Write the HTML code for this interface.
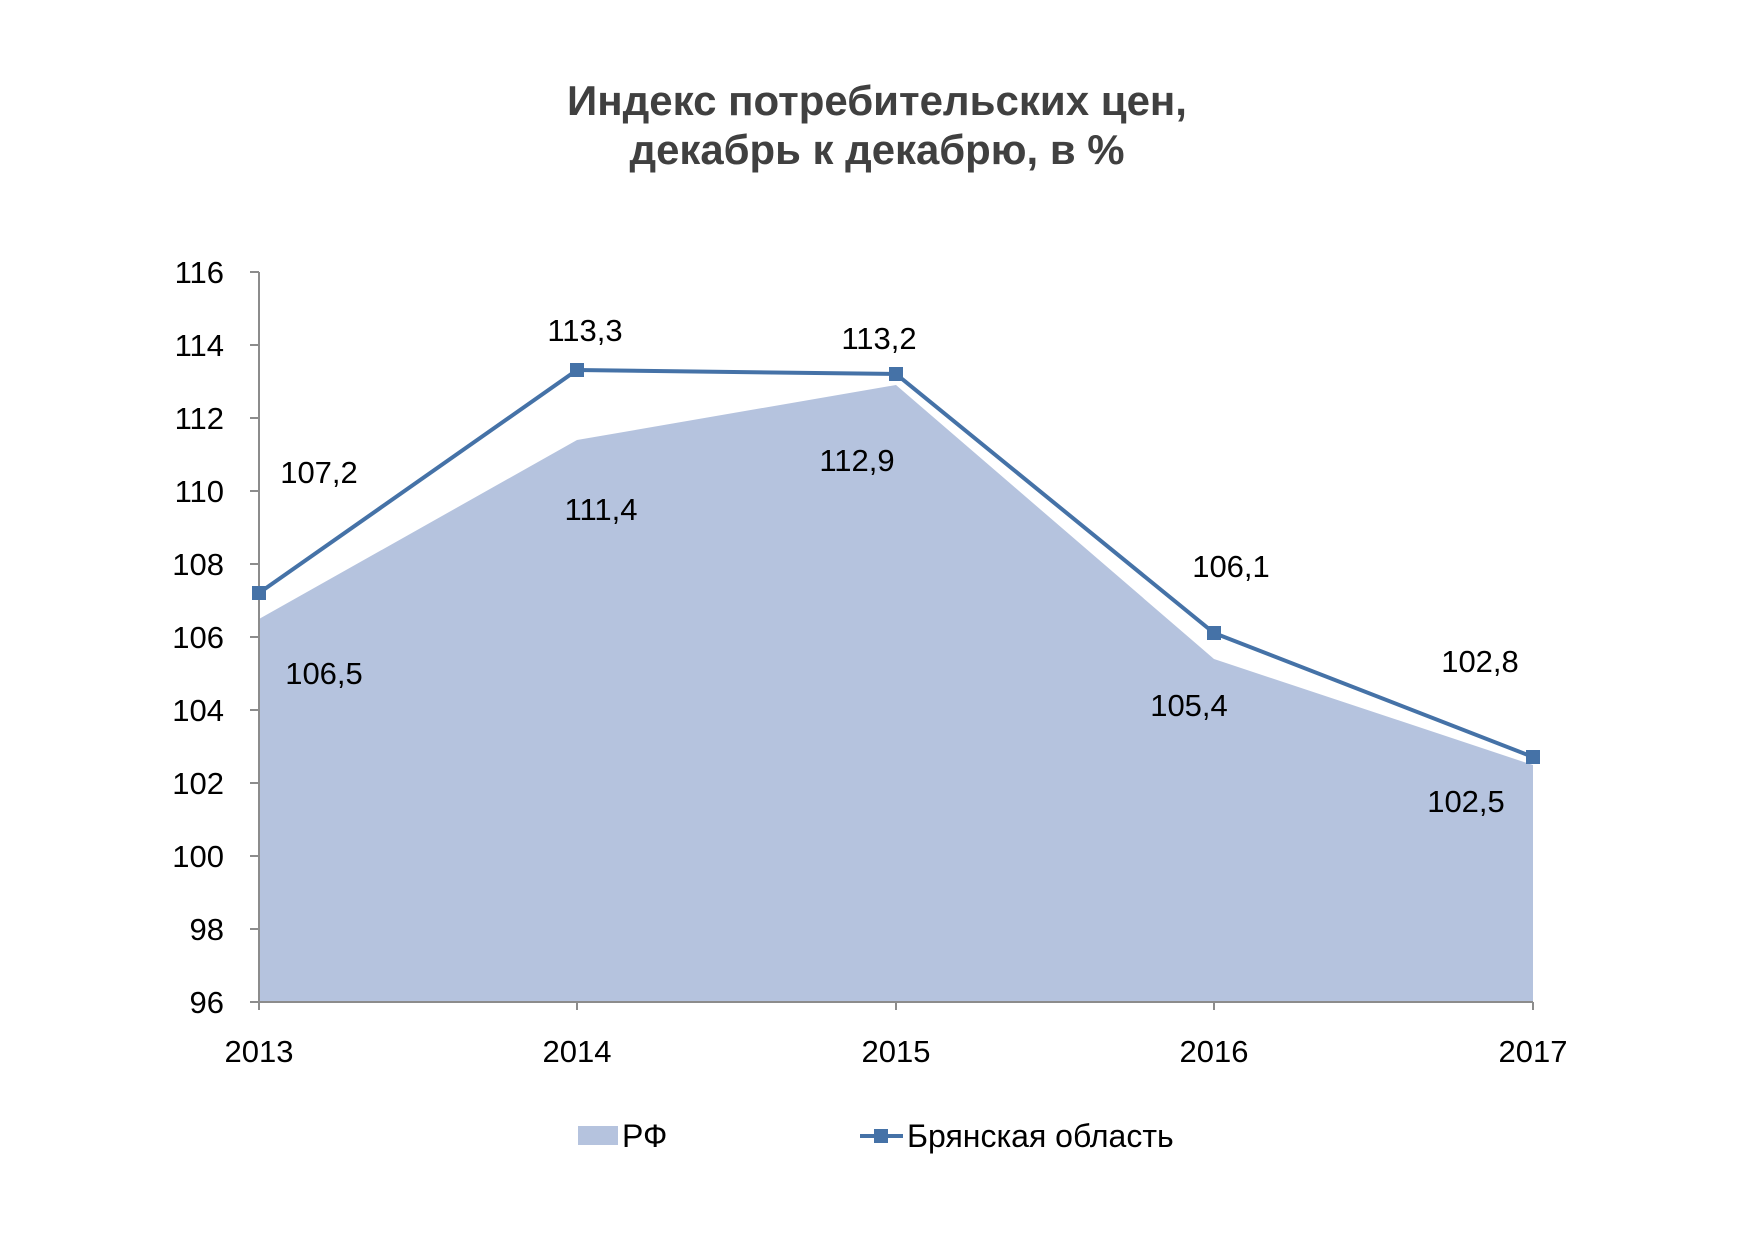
<!DOCTYPE html>
<html><head><meta charset="utf-8"><style>
html,body{margin:0;padding:0;background:#fff}
svg{display:block}
text{font-family:"Liberation Sans",sans-serif}
</style></head><body>
<svg width="1754" height="1240" viewBox="0 0 1754 1240" xmlns="http://www.w3.org/2000/svg">
<g font-family="'Liberation Sans Narrow','Liberation Sans',sans-serif" font-weight="bold" font-size="42" fill="#404040" text-anchor="middle">
<text x="877" y="115" textLength="620" lengthAdjust="spacingAndGlyphs">Индекс потребительских цен,</text>
<text x="877" y="164" textLength="495" lengthAdjust="spacingAndGlyphs">декабрь к декабрю, в %</text>
</g>
<polygon fill="#b5c3de" points="259,1002 259,619 577,440 896,385 1214,659 1533,765 1533,1002"/>
<g stroke="#8c8c8c" stroke-width="2" fill="none">
<line x1="259" y1="272" x2="259" y2="1010"/>
<line x1="250" y1="1002" x2="1533" y2="1002"/>
<line x1="250" y1="272" x2="259" y2="272"/>
<line x1="250" y1="345" x2="259" y2="345"/>
<line x1="250" y1="418" x2="259" y2="418"/>
<line x1="250" y1="491" x2="259" y2="491"/>
<line x1="250" y1="564" x2="259" y2="564"/>
<line x1="250" y1="637" x2="259" y2="637"/>
<line x1="250" y1="710" x2="259" y2="710"/>
<line x1="250" y1="783" x2="259" y2="783"/>
<line x1="250" y1="856" x2="259" y2="856"/>
<line x1="250" y1="929" x2="259" y2="929"/>
<line x1="577" y1="1002" x2="577" y2="1010"/>
<line x1="896" y1="1002" x2="896" y2="1010"/>
<line x1="1214" y1="1002" x2="1214" y2="1010"/>
<line x1="1533" y1="1002" x2="1533" y2="1010"/>
</g>
<g font-size="31" fill="#000" text-anchor="end">
<text x="224" y="283">116</text><text x="224" y="356">114</text><text x="224" y="429">112</text>
<text x="224" y="502">110</text><text x="224" y="575">108</text><text x="224" y="648">106</text>
<text x="224" y="721">104</text><text x="224" y="794">102</text><text x="224" y="867">100</text>
<text x="224" y="940">98</text><text x="224" y="1013">96</text>
</g>
<g font-size="31" fill="#000" text-anchor="middle">
<text x="259" y="1062">2013</text><text x="577" y="1062">2014</text><text x="896" y="1062">2015</text>
<text x="1214" y="1062">2016</text><text x="1533" y="1062">2017</text>
</g>
<polyline fill="none" stroke="#4572a7" stroke-width="4" points="259,593 577,370 896,374 1214,633 1533,757"/>
<g fill="#4572a7">
<rect x="252" y="586" width="14" height="14"/><rect x="570" y="363" width="14" height="14"/>
<rect x="889" y="367" width="14" height="14"/><rect x="1207" y="626" width="14" height="14"/>
<rect x="1526" y="750" width="14" height="14"/>
</g>
<g font-size="31" fill="#000" text-anchor="middle">
<text x="319" y="483">107,2</text><text x="585" y="341">113,3</text><text x="879" y="349">113,2</text>
<text x="1231" y="577">106,1</text><text x="1480" y="672">102,8</text>
<text x="324" y="684">106,5</text><text x="601" y="520">111,4</text><text x="857" y="471">112,9</text>
<text x="1189" y="716">105,4</text><text x="1466" y="812">102,5</text>
</g>
<rect x="578" y="1126" width="40" height="19" fill="#b5c3de"/>
<text x="622" y="1147" font-size="32">РФ</text>
<line x1="860" y1="1136" x2="903" y2="1136" stroke="#4572a7" stroke-width="4"/>
<rect x="874" y="1129" width="14" height="14" fill="#4572a7"/>
<text x="907" y="1147" font-size="32">Брянская область</text>
</svg>
</body></html>
